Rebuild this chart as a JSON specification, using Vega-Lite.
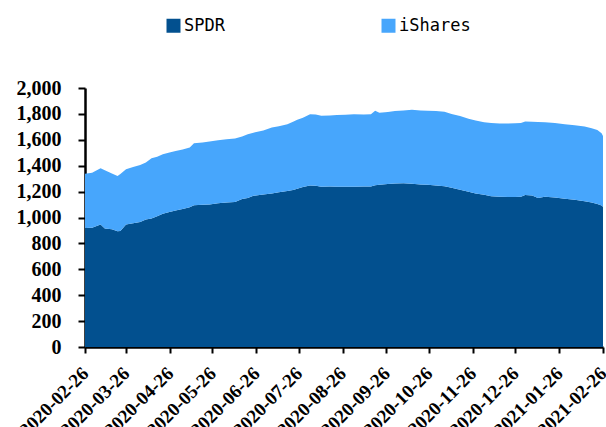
{
  "$schema": "https://vega.github.io/schema/vega-lite/v6.json",
  "width": 518,
  "height": 259,
  "autosize": {"type": "none"},
  "padding": {"left": 85, "top": 88, "right": 3, "bottom": 80},
  "background": "white",
  "datasets": {
    "raw": [
      {"date": "2020-02-26", "SPDR": 918, "iShares": 420},
      {"date": "2020-03-02", "SPDR": 920, "iShares": 425},
      {"date": "2020-03-08", "SPDR": 946, "iShares": 434},
      {"date": "2020-03-11", "SPDR": 915, "iShares": 450},
      {"date": "2020-03-16", "SPDR": 910, "iShares": 430},
      {"date": "2020-03-20", "SPDR": 893, "iShares": 427},
      {"date": "2020-03-22", "SPDR": 895, "iShares": 440},
      {"date": "2020-03-26", "SPDR": 946, "iShares": 426},
      {"date": "2020-03-31", "SPDR": 955, "iShares": 435},
      {"date": "2020-04-05", "SPDR": 966, "iShares": 439},
      {"date": "2020-04-09", "SPDR": 985, "iShares": 439},
      {"date": "2020-04-13", "SPDR": 992, "iShares": 465},
      {"date": "2020-04-17", "SPDR": 1010, "iShares": 460},
      {"date": "2020-04-21", "SPDR": 1028, "iShares": 460},
      {"date": "2020-04-25", "SPDR": 1040, "iShares": 460},
      {"date": "2020-04-30", "SPDR": 1054, "iShares": 460},
      {"date": "2020-05-05", "SPDR": 1065, "iShares": 460},
      {"date": "2020-05-10", "SPDR": 1080, "iShares": 460},
      {"date": "2020-05-13", "SPDR": 1095, "iShares": 479},
      {"date": "2020-05-19", "SPDR": 1098, "iShares": 482},
      {"date": "2020-05-24", "SPDR": 1101, "iShares": 486},
      {"date": "2020-05-30", "SPDR": 1110, "iShares": 487},
      {"date": "2020-06-05", "SPDR": 1115, "iShares": 490},
      {"date": "2020-06-11", "SPDR": 1120, "iShares": 490},
      {"date": "2020-06-16", "SPDR": 1143, "iShares": 482},
      {"date": "2020-06-20", "SPDR": 1150, "iShares": 493},
      {"date": "2020-06-24", "SPDR": 1168, "iShares": 487},
      {"date": "2020-07-01", "SPDR": 1178, "iShares": 494},
      {"date": "2020-07-07", "SPDR": 1186, "iShares": 509},
      {"date": "2020-07-12", "SPDR": 1195, "iShares": 510},
      {"date": "2020-07-18", "SPDR": 1204, "iShares": 517},
      {"date": "2020-07-22", "SPDR": 1212, "iShares": 528},
      {"date": "2020-07-25", "SPDR": 1222, "iShares": 532},
      {"date": "2020-07-29", "SPDR": 1235, "iShares": 535},
      {"date": "2020-08-03", "SPDR": 1248, "iShares": 550},
      {"date": "2020-08-07", "SPDR": 1245, "iShares": 550},
      {"date": "2020-08-11", "SPDR": 1238, "iShares": 548},
      {"date": "2020-08-17", "SPDR": 1240, "iShares": 548},
      {"date": "2020-08-22", "SPDR": 1238, "iShares": 553},
      {"date": "2020-08-28", "SPDR": 1238, "iShares": 555},
      {"date": "2020-09-03", "SPDR": 1238, "iShares": 560},
      {"date": "2020-09-10", "SPDR": 1240, "iShares": 556},
      {"date": "2020-09-15", "SPDR": 1240, "iShares": 558},
      {"date": "2020-09-18", "SPDR": 1250, "iShares": 574},
      {"date": "2020-09-21", "SPDR": 1252, "iShares": 556},
      {"date": "2020-09-27", "SPDR": 1258, "iShares": 557},
      {"date": "2020-10-02", "SPDR": 1262, "iShares": 560},
      {"date": "2020-10-08", "SPDR": 1264, "iShares": 562},
      {"date": "2020-10-14", "SPDR": 1261, "iShares": 571},
      {"date": "2020-10-20", "SPDR": 1255, "iShares": 571},
      {"date": "2020-10-25", "SPDR": 1252, "iShares": 572},
      {"date": "2020-10-31", "SPDR": 1248, "iShares": 574},
      {"date": "2020-11-06", "SPDR": 1242, "iShares": 574},
      {"date": "2020-11-11", "SPDR": 1230, "iShares": 570},
      {"date": "2020-11-17", "SPDR": 1214, "iShares": 570},
      {"date": "2020-11-23", "SPDR": 1198, "iShares": 564},
      {"date": "2020-11-28", "SPDR": 1185, "iShares": 565},
      {"date": "2020-12-04", "SPDR": 1175, "iShares": 561},
      {"date": "2020-12-09", "SPDR": 1165, "iShares": 565},
      {"date": "2020-12-15", "SPDR": 1160, "iShares": 566},
      {"date": "2020-12-21", "SPDR": 1158, "iShares": 568},
      {"date": "2020-12-26", "SPDR": 1159, "iShares": 569},
      {"date": "2020-12-30", "SPDR": 1160, "iShares": 570},
      {"date": "2021-01-02", "SPDR": 1173, "iShares": 569},
      {"date": "2021-01-07", "SPDR": 1170, "iShares": 570},
      {"date": "2021-01-11", "SPDR": 1150, "iShares": 588},
      {"date": "2021-01-16", "SPDR": 1160, "iShares": 575},
      {"date": "2021-01-23", "SPDR": 1155, "iShares": 575},
      {"date": "2021-01-30", "SPDR": 1145, "iShares": 576},
      {"date": "2021-02-06", "SPDR": 1137, "iShares": 575},
      {"date": "2021-02-13", "SPDR": 1126, "iShares": 577},
      {"date": "2021-02-18", "SPDR": 1115, "iShares": 575},
      {"date": "2021-02-22", "SPDR": 1105, "iShares": 570},
      {"date": "2021-02-25", "SPDR": 1092, "iShares": 558},
      {"date": "2021-02-26", "SPDR": 1083, "iShares": 547}
    ]
  },
  "data": {"name": "raw"},
  "transform": [
    {"fold": ["SPDR", "iShares"], "as": ["series", "value"]},
    {"calculate": "datum.series === 'SPDR' ? 0 : 1", "as": "ord"}
  ],
  "mark": {"type": "area", "interpolate": "linear", "line": false},
  "encoding": {
    "x": {
      "field": "date",
      "type": "temporal",
      "scale": {"domain": [{"year": 2020, "month": 2, "date": 26}, {"year": 2021, "month": 2, "date": 26}], "nice": false},
      "axis": {
        "title": null,
        "values": [
          {"year": 2020, "month": 2, "date": 26},
          {"year": 2020, "month": 3, "date": 26},
          {"year": 2020, "month": 4, "date": 26},
          {"year": 2020, "month": 5, "date": 26},
          {"year": 2020, "month": 6, "date": 26},
          {"year": 2020, "month": 7, "date": 26},
          {"year": 2020, "month": 8, "date": 26},
          {"year": 2020, "month": 9, "date": 26},
          {"year": 2020, "month": 10, "date": 26},
          {"year": 2020, "month": 11, "date": 26},
          {"year": 2020, "month": 12, "date": 26},
          {"year": 2021, "month": 1, "date": 26},
          {"year": 2021, "month": 2, "date": 26}
        ],
        "format": "%Y-%m-%d",
        "labelAngle": -45,
        "labelAlign": "right",
        "labelBaseline": "middle",
        "labelFont": "'Times New Roman', 'Liberation Serif', 'DejaVu Serif', serif",
        "labelFontWeight": "bold",
        "labelFontSize": 19,
        "labelColor": "black",
        "labelPadding": 17,
        "labelOverlap": false,
        "labelFlush": false,
        "domainColor": "black",
        "domainWidth": 2.5,
        "tickColor": "black",
        "tickWidth": 2,
        "tickSize": 6,
        "grid": false
      }
    },
    "y": {
      "field": "value",
      "type": "quantitative",
      "stack": "zero",
      "scale": {"domain": [0, 2000], "nice": false},
      "axis": {
        "title": null,
        "values": [0, 200, 400, 600, 800, 1000, 1200, 1400, 1600, 1800, 2000],
        "format": ",.0f",
        "labelFont": "'Times New Roman', 'Liberation Serif', 'DejaVu Serif', serif",
        "labelFontWeight": "bold",
        "labelFontSize": 20,
        "labelColor": "black",
        "labelPadding": 17,
        "domainColor": "black",
        "domainWidth": 2.5,
        "tickColor": "black",
        "tickWidth": 2,
        "tickSize": 7,
        "grid": false
      }
    },
    "color": {
      "field": "series",
      "type": "nominal",
      "sort": ["SPDR", "iShares"],
      "scale": {"domain": ["SPDR", "iShares"], "range": ["#02508F", "#47A6FC"]},
      "legend": {
        "title": null,
        "orient": "none",
        "direction": "horizontal",
        "legendX": 80,
        "legendY": -71,
        "symbolType": "square",
        "symbolSize": 196,
        "symbolStrokeWidth": 0,
        "symbolOpacity": 1,
        "labelFont": "DejaVu Sans Mono",
        "labelFontSize": 17,
        "labelColor": "black",
        "labelOffset": 2,
        "columnPadding": 155
      }
    },
    "order": {"field": "ord", "type": "quantitative"}
  },
  "config": {
    "view": {"stroke": null}
  }
}
